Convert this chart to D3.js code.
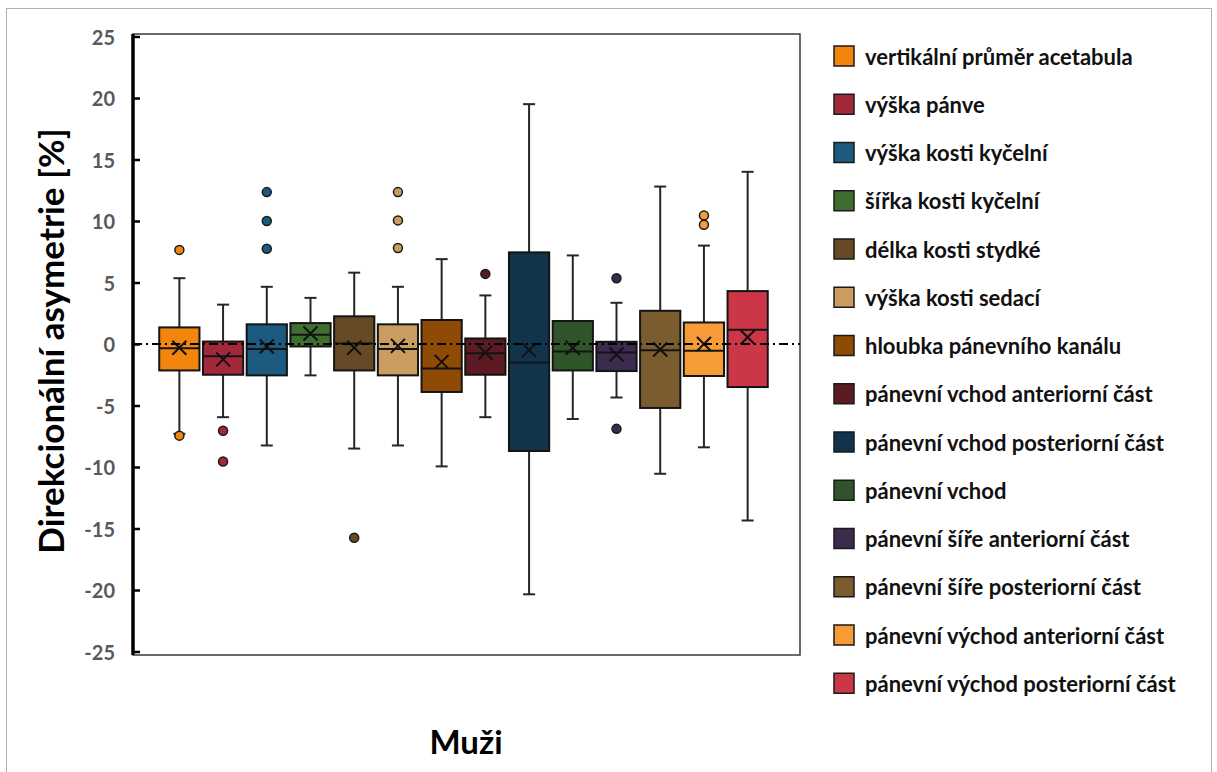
<!DOCTYPE html>
<html>
<head>
<meta charset="utf-8">
<script src="https://cdn.jsdelivr.net/npm/d3@7"></script>
<style>
  html, body { margin: 0; padding: 0; background: #fff; }
  svg { display: block; }
  text { font-family: Lato, "Noto Sans", sans-serif; font-weight: 700; }
</style>
</head>
<body>
<svg id="chart" width="1217" height="772"></svg>
<script>
// Box-plot statistics of directional asymmetry (%) per pelvic measurement, men
const categories = [
  "vertikální průměr acetabula",
  "výška pánve",
  "výška kosti kyčelní",
  "šířka kosti kyčelní",
  "délka kosti stydké",
  "výška kosti sedací",
  "hloubka pánevního kanálu",
  "pánevní vchod anteriorní část",
  "pánevní vchod posteriorní část",
  "pánevní vchod",
  "pánevní šíře anteriorní část",
  "pánevní šíře posteriorní část",
  "pánevní východ anteriorní část",
  "pánevní východ posteriorní část"
];
const colors = [
  "#f2850c", "#a3283a", "#1c5a80", "#3f6e30", "#654a25", "#c99d5f", "#8f4a06",
  "#5e1a23", "#11344c", "#2f5429", "#3b2b4e", "#7b5c2e", "#f69b36", "#cc3747"
];
const whiskerLow  = [-7.3, -5.95, -8.25, -2.55, -8.5, -8.25, -9.95, -5.95, -20.35, -6.1, -4.35, -10.55, -8.4, -14.35];
const q1          = [-2.15, -2.5, -2.55, -0.2, -2.15, -2.55, -3.9, -2.5, -8.7, -2.15, -2.2, -5.2, -2.6, -3.5];
const median      = [-0.35, -1.0, -0.4, 0.75, 0.05, -0.4, -2.0, -0.75, -1.5, -0.6, -0.7, -0.5, -0.55, 1.15];
const q3          = [1.35, 0.2, 1.6, 1.7, 2.25, 1.6, 1.95, 0.45, 7.45, 1.87, 0.18, 2.7, 1.75, 4.3];
const whiskerHigh = [5.35, 3.2, 4.65, 3.75, 5.8, 4.65, 6.9, 3.95, 19.5, 7.2, 3.35, 12.8, 8.0, 14.0];
const mean        = [-0.3, -1.25, -0.2, 0.85, -0.3, -0.15, -1.45, -0.7, -0.5, -0.3, -0.85, -0.45, 0.0, 0.55];
const outliers    = [
  [7.65, -7.45], [-7.05, -9.55], [12.35, 10.0, 7.75], [], [-15.75], [12.35, 10.05, 7.8], [],
  [5.7], [], [], [5.35, -6.9], [], [10.45, 9.7], []
];
const yTicks = [-25, -20, -15, -10, -5, 0, 5, 10, 15, 20, 25];
const xTitle = "Muži";
const yTitle = "Direkcionální asymetrie [%]";

const rows = categories.map((name, i) => ({
  name, color: colors[i], lo: whiskerLow[i], q1: q1[i], med: median[i],
  q3: q3[i], hi: whiskerHigh[i], mean: mean[i], out: outliers[i]
}));

const svg = d3.select("#chart");

// outer frame
svg.append("rect")
  .attr("x", 6.5).attr("y", 8.5).attr("width", 1205).attr("height", 770)
  .attr("fill", "none").attr("stroke", "#b0b0b0").attr("stroke-width", 1);

const plot = { left: 133, right: 800, top: 34, bottom: 655 };

const y = d3.scaleLinear().domain([-25, 25]).range([651.5, 36.5]);
const x = d3.scaleBand().domain(categories).range([157.5, 769.5])
  .paddingInner(0.08).paddingOuter(0.04);

// plot frame
svg.append("rect")
  .attr("x", plot.left).attr("y", plot.top)
  .attr("width", plot.right - plot.left).attr("height", plot.bottom - plot.top)
  .attr("fill", "none").attr("stroke", "#3a3a3a").attr("stroke-width", 1.5);

// y axis with inward ticks
const yAxis = d3.axisRight(y).tickValues(yTicks).tickSize(7).tickFormat("");
const gy = svg.append("g").attr("transform", `translate(${plot.left},0)`).call(yAxis);
gy.select(".domain").remove();
gy.selectAll(".tick line").attr("stroke", "#000").attr("stroke-width", 2.5);
svg.append("line")
  .attr("x1", plot.left).attr("x2", plot.left)
  .attr("y1", plot.top).attr("y2", plot.bottom)
  .attr("stroke", "#000").attr("stroke-width", 3.5);

svg.append("g").selectAll("text").data(yTicks).join("text")
  .attr("x", 115).attr("y", d => y(d))
  .attr("text-anchor", "end").attr("dominant-baseline", "central")
  .attr("fill", "#595959").attr("font-size", 20)
  .text(d => d);

// boxes
const g = svg.append("g");
const bw = x.bandwidth();
const capW = 12;

rows.forEach(r => {
  const cx = x(r.name) + bw / 2;
  const gg = g.append("g");
  // whiskers
  gg.append("line").attr("x1", cx).attr("x2", cx).attr("y1", y(r.q3)).attr("y2", y(r.hi))
    .attr("stroke", "#262626").attr("stroke-width", 2);
  gg.append("line").attr("x1", cx).attr("x2", cx).attr("y1", y(r.q1)).attr("y2", y(r.lo))
    .attr("stroke", "#262626").attr("stroke-width", 2);
  gg.append("line").attr("x1", cx - capW / 2).attr("x2", cx + capW / 2)
    .attr("y1", y(r.hi)).attr("y2", y(r.hi)).attr("stroke", "#262626").attr("stroke-width", 2);
  gg.append("line").attr("x1", cx - capW / 2).attr("x2", cx + capW / 2)
    .attr("y1", y(r.lo)).attr("y2", y(r.lo)).attr("stroke", "#262626").attr("stroke-width", 2);
  // box
  gg.append("rect")
    .attr("x", x(r.name)).attr("y", y(r.q3))
    .attr("width", bw).attr("height", y(r.q1) - y(r.q3))
    .attr("fill", r.color).attr("stroke", "#141414").attr("stroke-width", 2);
  // median
  gg.append("line").attr("x1", x(r.name)).attr("x2", x(r.name) + bw)
    .attr("y1", y(r.med)).attr("y2", y(r.med))
    .attr("stroke", "#141414").attr("stroke-width", 2);
  // mean marker
  const my = y(r.mean), s = 7;
  gg.append("path")
    .attr("d", `M${cx - s},${my - s}L${cx + s},${my + s}M${cx - s},${my + s}L${cx + s},${my - s}`)
    .attr("stroke", "#111").attr("stroke-width", 2).attr("fill", "none");
  // outliers
  gg.selectAll("circle").data(r.out).join("circle")
    .attr("cx", cx).attr("cy", d => y(d)).attr("r", 4.5)
    .attr("fill", r.color).attr("stroke", "#1a1a1a").attr("stroke-width", 1.5);
});

// zero reference line
svg.append("line")
  .attr("x1", plot.left).attr("x2", plot.right)
  .attr("y1", y(0)).attr("y2", y(0))
  .attr("stroke", "#000").attr("stroke-width", 2)
  .attr("stroke-dasharray", "9,4,2,4");

// legend
const legend = svg.append("g");
rows.forEach((r, i) => {
  const ly = 56 + i * 48.25;
  legend.append("rect")
    .attr("x", 834).attr("y", ly - 10).attr("width", 20).attr("height", 20)
    .attr("fill", r.color).attr("stroke", "#1a1a1a").attr("stroke-width", 1.5);
  legend.append("text")
    .attr("x", 865).attr("y", ly)
    .attr("dominant-baseline", "central")
    .attr("font-size", 22).attr("fill", "#111")
    .text(r.name);
});

// axis titles
svg.append("text")
  .attr("x", 466).attr("y", 741)
  .attr("text-anchor", "middle").attr("dominant-baseline", "central")
  .attr("font-size", 33).attr("fill", "#000")
  .text(xTitle);

svg.append("text")
  .attr("transform", "translate(50,341) rotate(-90)")
  .attr("text-anchor", "middle").attr("dominant-baseline", "central")
  .attr("font-size", 35).attr("fill", "#000")
  .text(yTitle);
</script>
</body>
</html>
